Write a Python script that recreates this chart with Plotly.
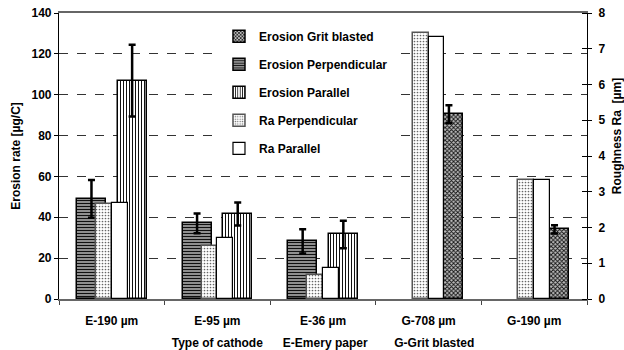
import plotly.graph_objects as go

categories = ["E-190 µm", "E-95 µm", "E-36 µm", "G-708 µm", "G-190 µm"]

erosion_grit = [None, None, None, 90.5, 34.1]
erosion_grit_err = [None, None, None, 4.3, 2.0]
erosion_perp = [49.0, 37.0, 28.2, None, None]
erosion_perp_err = [9.2, 4.8, 5.9, None, None]
erosion_par = [106.9, 41.6, 31.6, None, None]
erosion_par_err = [17.6, 5.6, 6.7, None, None]
ra_perp = [2.66, 1.49, 0.66, 7.43, 3.32]
ra_par = [2.68, 1.71, 0.86, 7.32, 3.32]

FONT = "Liberation Sans, Arial, sans-serif"


def bfont(size=12):
    return dict(family=FONT, size=size, color="black", weight=700)


def b(t):
    return "<b>" + t + "</b>"


fig = go.Figure()

err_style = dict(type="data", visible=True, color="black", thickness=2.5, width=3.5)

fig.add_trace(go.Bar(
    name=b("Erosion Grit blasted"), x=categories, y=erosion_grit,
    error_y=dict(array=erosion_grit_err, **err_style),
    offset=0.055, width=0.275,
    marker=dict(color="#9a9a9a", line=dict(color="black", width=1.5),
                pattern=dict(shape="x", size=3, solidity=0.5, fgcolor="#111", bgcolor="#bdbdbd", fillmode="replace")),
    legendgroup="g1", legendrank=1,
))
fig.add_trace(go.Bar(
    name=b("Erosion Perpendicular"), x=categories, y=erosion_perp,
    error_y=dict(array=erosion_perp_err, **err_style),
    offset=-0.33, width=0.275,
    marker=dict(color="#777", line=dict(color="black", width=1.5),
                pattern=dict(shape="-", size=3, solidity=0.5, fgcolor="#111", bgcolor="#b8b8b8", fillmode="replace")),
    legendgroup="g2", legendrank=2,
))
fig.add_trace(go.Bar(
    name=b("Erosion Parallel"), x=categories, y=erosion_par,
    error_y=dict(array=erosion_par_err, **err_style),
    offset=0.055, width=0.275,
    marker=dict(color="white", line=dict(color="black", width=1.5),
                pattern=dict(shape="|", size=3, solidity=0.35, fgcolor="#111", bgcolor="white", fillmode="replace")),
    legendgroup="g3", legendrank=3,
))
fig.add_trace(go.Bar(
    name=b("Ra Perpendicular"), x=categories, y=ra_perp, yaxis="y2",
    offset=-0.15, width=0.15,
    marker=dict(color="white", line=dict(color="#555", width=1.5),
                pattern=dict(shape=".", size=3, solidity=0.25, fgcolor="#666", bgcolor="white", fillmode="replace")),
    legendgroup="g4", legendrank=4,
))
fig.add_trace(go.Bar(
    name=b("Ra Parallel"), x=categories, y=ra_par, yaxis="y2",
    offset=0.0, width=0.15,
    marker=dict(color="white", line=dict(color="black", width=1.2)),
    legendgroup="g5", legendrank=5,
))

NB = "\u00a0"

fig.update_layout(
    width=624, height=350,
    margin=dict(l=59, r=37, t=13, b=51),
    paper_bgcolor="white", plot_bgcolor="white",
    font=bfont(12),
    barmode="overlay",
    bargap=0,
    legend=dict(x=0.303, y=0.969, xanchor="left", yanchor="top",
                bgcolor="white", borderwidth=0, tracegroupgap=9,
                font=bfont(12)),
    xaxis=dict(
        type="category", tickson="boundaries", ticks="outside", ticklen=4,
        tickcolor="#444", showline=True, linecolor="#666", linewidth=1.5, mirror=True,
        showgrid=False, tickfont=bfont(12), ticklabelstandoff=10, automargin=False,
        title=dict(text=b("Type of cathode" + NB * 5 + " E-Emery paper" + NB * 7 + " G-Grit blasted"),
                   font=bfont(12), standoff=12),
    ),
    yaxis=dict(
        range=[0, 140], dtick=20, ticks="outside", ticklen=4, tickcolor="black",
        showline=True, linecolor="black", linewidth=1.2,
        showgrid=True, gridcolor="#333", griddash="dash", gridwidth=1,
        zeroline=False, tickfont=bfont(12), automargin=False,
        title=dict(text=b("Erosion rate [µg/C]"), font=bfont(12), standoff=8),
    ),
    yaxis2=dict(
        range=[0, 8], dtick=1, overlaying="y", side="right",
        ticks="outside", ticklen=4, tickcolor="black",
        minor=dict(ticks="inside", ticklen=5, dtick=1, tickcolor="black", showgrid=False),
        showline=True, linecolor="black", linewidth=1.2,
        showgrid=False, zeroline=False, tickfont=bfont(12), ticklabelstandoff=4, automargin=False,
        title=dict(text=b(NB * 12 + "Roughness Ra" + NB * 2 + "[µm]"), font=bfont(12), standoff=10),
    ),
)

fig.write_html("out.html")
